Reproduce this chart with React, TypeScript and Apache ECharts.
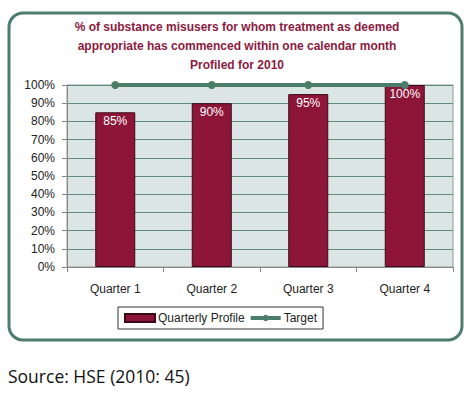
import React, { useEffect, useRef } from "react";
import * as echarts from "echarts";

const categories = ["Quarter 1", "Quarter 2", "Quarter 3", "Quarter 4"];
const quarterlyProfile = [85, 90, 95, 100];
const target = [100, 100, 100, 100];
const titleLines = [
  "% of substance misusers for whom treatment as deemed",
  "appropriate has commenced within one calendar month",
  "Profiled for 2010",
];
const sourceText = "Source: HSE (2010: 45)";

export default function App() {
  const ref = useRef<HTMLDivElement>(null);
  useEffect(() => {
    document.body.style.margin = "0";
    const chart = echarts.init(ref.current!, null, { renderer: "svg" });
    const font = "'Liberation Sans', Arial, sans-serif";
    chart.setOption({
      animation: false,
      backgroundColor: "#ffffff",
      graphic: [
        {
          type: "rect",
          z: -10,
          shape: { x: 9, y: 13, width: 453, height: 327, r: 14 },
          style: { fill: "#ffffff", stroke: "#4d7d6b", lineWidth: 3 },
        },
        {
          type: "text",
          left: 8,
          top: 367,
          style: {
            text: sourceText,
            fontFamily: "'Open Sans', sans-serif",
            fontSize: 17.5,
            fill: "#111",
          },
        },
      ],
      title: {
        text: titleLines.join("\n"),
        left: "center",
        top: 12,
        textStyle: {
          fontFamily: font,
          fontSize: 12,
          fontWeight: "bold",
          color: "#8b1a40",
          lineHeight: 19,
        },
      },
      legend: {
        left: 118,
        top: 307,
        width: 208,
        padding: [5, 6, 5, 6],
        borderColor: "#333",
        borderWidth: 1,
        itemGap: 4,
        itemWidth: 30,
        itemHeight: 8,
        textStyle: { fontFamily: font, fontSize: 12, color: "#222", padding: [0, 0, 0, -2] },
        data: [
          { name: "Quarterly Profile", icon: "rect" },
          { name: "Target", lineStyle: { width: 4, color: "#4b7d6b" } },
        ],
      },
      grid: {
        left: 67,
        top: 85,
        width: 386,
        height: 182,
        show: true,
        backgroundColor: "#dce5e5",
        borderColor: "#999",
        borderWidth: 1,
      },
      xAxis: {
        type: "category",
        data: categories,
        axisLine: { lineStyle: { color: "#888" } },
        axisTick: { show: true, length: 5, lineStyle: { color: "#888" } },
        axisLabel: { fontFamily: font, fontSize: 12, color: "#222", margin: 16 },
      },
      yAxis: {
        type: "value",
        min: 0,
        max: 100,
        interval: 10,
        axisLine: { show: true, lineStyle: { color: "#888" } },
        axisTick: { show: true, length: 5, lineStyle: { color: "#888" } },
        axisLabel: {
          formatter: "{value}%",
          fontFamily: font,
          fontSize: 12,
          color: "#222",
          margin: 12,
        },
        splitLine: { lineStyle: { color: "#5c8c7c", width: 1 } },
      },
      series: [
        {
          name: "Quarterly Profile",
          type: "bar",
          data: quarterlyProfile,
          barWidth: 40,
          itemStyle: { color: "#8c1538", borderColor: "#3a0a18", borderWidth: 1 },
          label: {
            show: true,
            position: "insideTop",
            distance: 3,
            formatter: "{c}%",
            color: "#ffffff",
            fontFamily: font,
            fontSize: 12,
          },
        },
        {
          name: "Target",
          type: "line",
          data: target,
          symbol: "circle",
          symbolSize: 8,
          lineStyle: { color: "#4b7d6b", width: 4 },
          itemStyle: { color: "#4b7d6b" },
          z: 5,
        },
      ],
    });
    return () => chart.dispose();
  }, []);
  return <div ref={ref} style={{ width: 474, height: 398 }} />;
}
